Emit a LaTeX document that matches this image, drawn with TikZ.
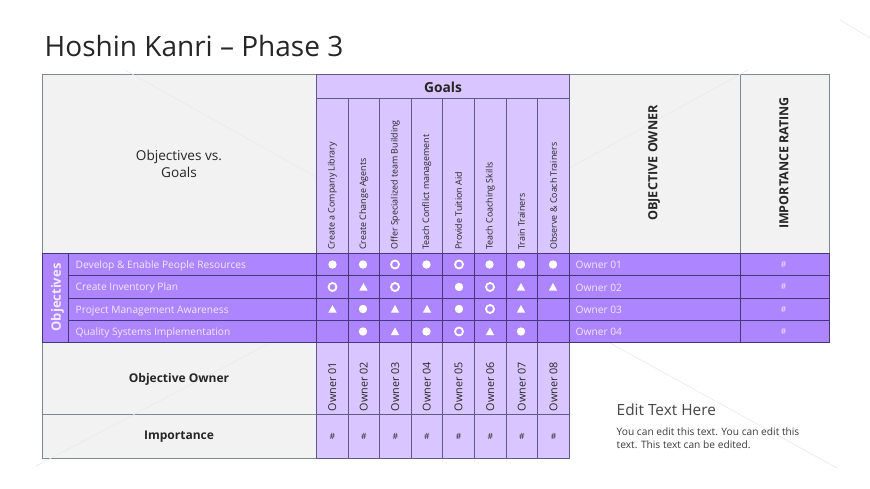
\documentclass[tikz,border=0pt]{standalone}
\usepackage{fontspec}
\setmainfont{Open Sans}
\definecolor{lav}{HTML}{D9C5FF}
\definecolor{purp}{HTML}{AD85FF}
\definecolor{grayc}{HTML}{F2F2F2}
\definecolor{edge}{HTML}{5E5A86}
\definecolor{gedge}{HTML}{7F8794}
\definecolor{darkedge}{HTML}{45377F}
\definecolor{ink}{HTML}{262626}
\definecolor{txtw}{HTML}{F1E9FF}
\definecolor{faint}{HTML}{EAEAEA}
\begin{document}
\begin{tikzpicture}[x=1pt,y=-1pt,
  cell/.style={draw=edge,line width=.8pt},
  gcell/.style={draw=gedge,line width=.8pt,fill=grayc},
  lcell/.style={cell,fill=lav},
  pcell/.style={draw=darkedge,line width=.8pt,fill=purp},
  rowtxt/.style={text=txtw,font=\fontsize{10.2}{12}\selectfont,anchor=west,inner sep=0pt},
  vtxt/.style={rotate=90,text=ink,font=\fontsize{8.9}{10}\selectfont,inner sep=0pt},
  dotm/.style={circle,fill=white,inner sep=0pt,minimum size=8.4pt},
  ringm/.style={circle,draw=white,line width=1.8pt,inner sep=0pt,minimum size=8pt},
  trim/.style={fill=white,draw=none},
  hd/.style={font=\bfseries,text=ink,inner sep=0pt}
]
\useasboundingbox (0,0) rectangle (870,489);
\fill[white] (0,0) rectangle (870,489);
\node[anchor=west,inner sep=0pt,text=ink,font=\fontsize{28}{32}\selectfont] (title) at (44.5,46) {Hoshin Kanri – Phase 3};
% gray blocks
\draw[gcell] (42,74) rectangle (316.5,253);
\draw[gcell] (569.5,74) rectangle (740,253);
\draw[gcell] (740,74) rectangle (829,253);
\draw[gcell] (42,342) rectangle (316.5,414);
\draw[gcell] (42,414) rectangle (316.5,458);
% faint background lines
\draw[faint,line width=.6pt] (569.5,168) -- (748,70);
\draw[faint,line width=.6pt] (840,20) -- (870,38);
\draw[faint,line width=.6pt] (610,343) -- (837,468);
\draw[faint,line width=.6pt] (125,70) -- (316,177);
\draw[faint,line width=.6pt] (36,466) -- (272,342);
\node[align=center,text=ink,font=\fontsize{13.6}{17}\selectfont,inner sep=0pt] (ovg) at (179,164) {Objectives vs.\\Goals};
\node[hd,rotate=90,font=\bfseries\fontsize{12.6}{14}\selectfont] (oo) at (654,163) {OBJECTIVE OWNER};
\node[hd,rotate=90,font=\bfseries\fontsize{12.5}{14}\selectfont] (ir) at (784,163) {IMPORTANCE RATING};
\node[hd,font=\bfseries\fontsize{12}{14}\selectfont] (oo2) at (179,379) {Objective Owner};
\node[hd,font=\bfseries\fontsize{12}{14}\selectfont] (imp) at (179,437) {Importance};
% goals header
\draw[lcell] (316.5,74) rectangle (569.5,98);
\node[hd,font=\bfseries\fontsize{13.8}{16}\selectfont] (goals) at (443,87) {Goals};
% columns
\foreach \i/\a/\b/\t in {1/316.5/348/Create a Company Library,2/348/379.5/Create Change Agents,3/379.5/411/Offer Specialized  team Building,4/411/442.5/Teach Conflict management,5/442.5/474.5/Provide Tuition Aid,6/474.5/506/Teach Coaching Skills,7/506/537.5/Train Trainers,8/537.5/569.5/Observe \& Coach Trainers}{
  \draw[lcell] (\a,98) rectangle (\b,253);
  \draw[lcell] (\a,342) rectangle (\b,414);
  \draw[lcell] (\a,414) rectangle (\b,458);
  \pgfmathsetmacro{\m}{(\a+\b)/2}
  \node[vtxt,anchor=west] (g\i) at (\m,250) {\t};
  \node[vtxt,font=\fontsize{10.8}{12}\selectfont] (own\i) at (\m,386.5) {Owner 0\i};
  \node[text=ink,font=\fontsize{8.5}{11}\selectfont,inner sep=0pt] (imp\i) at (\m,436) {\#};
  \foreach \y/\yy in {253/275.5,275.5/298,298/320,320/342}{
    \draw[pcell] (\a,\y) rectangle (\b,\yy);
  }
}
% rows
\draw[pcell] (42,253) rectangle (68,342);
\node[rotate=90,text=txtw,font=\bfseries\fontsize{13}{15}\selectfont,inner sep=0pt] (objs) at (57.5,297.5) {Objectives};
\foreach \r/\y/\yy/\t in {1/253/275.5/Develop \& Enable  People  Resources,2/275.5/298/Create Inventory Plan,3/298/320/Project Management  Awareness,4/320/342/Quality Systems Implementation}{
  \draw[pcell] (68,\y) rectangle (316.5,\yy);
  \draw[pcell] (569.5,\y) rectangle (740,\yy);
  \draw[pcell] (740,\y) rectangle (829,\yy);
  \pgfmathsetmacro{\c}{(\y+\yy)/2}
  \node[rowtxt] (obj\r) at (75.5,\c+1.5) {\t};
  \node[rowtxt] (ow\r) at (575.5,\c+1) {Owner 0\r};
  \node[text=txtw,font=\fontsize{8.5}{11}\selectfont,inner sep=0pt] (ra\r) at (783.5,\c) {\#};
}
% markers
\foreach \x/\y in {332.5/264.5,363/264.5,426.5/264.5,489.5/264.5,521/264.5,553/264.5,
  459/287,459/309,363/309,363/331.5,426.5/331.5,521/331.5}
  \node[dotm] at (\x,\y) {};
\foreach \x/\y in {395/264.5,459/264.5,332.5/287,395/287,490/287,490/309,459/331.5}
  \node[ringm] at (\x,\y) {};
\foreach \x/\y in {363.5/287,521/287,553/287,332.5/309,395/309,427/309,521/309,395/331.5,490/331.5}
  \fill[trim] (\x-4.2,\y+3.6) -- (\x+4.2,\y+3.6) -- (\x,\y-4) -- cycle;
% text box
\node[anchor=west,inner sep=0pt,text=ink!85,font=\fontsize{15.4}{18}\selectfont] (edit) at (616.5,410) {Edit Text Here};
\node[anchor=north west,align=left,inner sep=0pt,text=ink!90,font=\fontsize{10.2}{13}\selectfont] (body) at (616.5,427.5) {You can edit this text. You can edit this\\text. This text can be edited.};
\end{tikzpicture}
\end{document}
